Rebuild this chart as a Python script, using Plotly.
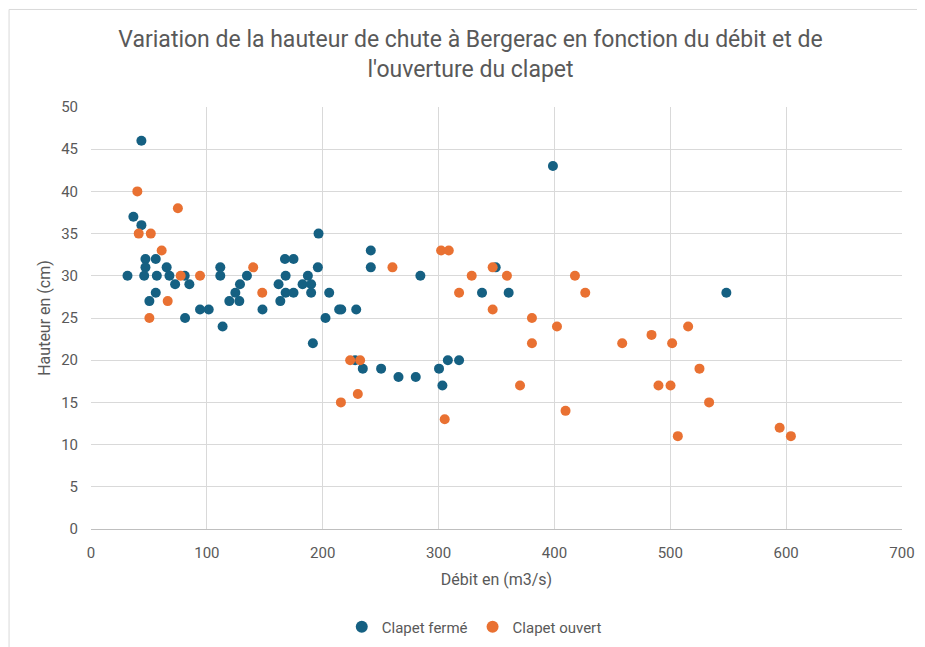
import plotly.graph_objects as go

# Clapet fermé (closed)
ferme_x = [43.5, 36.6, 43.5, 47, 55.9, 47, 65.3, 111.6, 111.6, 167.4, 174.8, 31.5, 45.9, 56.8,
           67.7, 80.9, 134.6, 168, 55.9, 72.6, 84.9, 128.6, 161.9, 124.6, 168, 174.8,
           50.4, 119.4, 128, 163.4, 81.2, 94.1, 101.6, 148, 113.6,
           196.4, 241.5, 241.5, 195.8, 187.2, 284.3, 349.3, 182.6, 190, 190, 205.6, 337.5,
           360.5, 214.2, 216, 228.9, 202.4, 191.5, 228, 234.6, 250.4, 265.4, 280.3, 300.4, 308,
           317.7, 303.3, 548.4, 398.7]
ferme_y = [46, 37, 36, 32, 32, 31, 31, 31, 30, 32, 32, 30, 30, 30,
           30, 30, 30, 30, 28, 29, 29, 29, 29, 28, 28, 28,
           27, 27, 27, 27, 25, 26, 26, 26, 24,
           35, 33, 31, 31, 30, 30, 31, 29, 29, 28, 28, 28,
           28, 26, 26, 26, 25, 22, 20, 19, 19, 18, 18, 19, 20,
           20, 17, 28, 43]

# Clapet ouvert (open)
ouvert_x = [40, 75, 41.2, 51.6, 61, 140, 77.4, 94.1, 147.8, 66.2, 50.4,
            260.2, 302.2, 308.8, 346.7, 328.6, 359, 317.7, 346.7,
            223.7, 232.3, 215.7, 230.3, 305.3,
            417.7, 426.6, 380.6, 402.2, 515.4, 380.6, 458.5, 483.8, 501.6, 525.2,
            370.3, 489.8, 500.2, 533.5, 409.6, 506.5, 594.4, 604.1]
ouvert_y = [40, 38, 35, 35, 33, 31, 30, 30, 28, 27, 25,
            31, 33, 33, 31, 30, 30, 28, 26,
            20, 20, 15, 16, 13,
            30, 28, 25, 24, 24, 22, 22, 23, 22, 19,
            17, 17, 17, 15, 14, 11, 12, 11]

title_text = "Variation de la hauteur de chute à Bergerac en fonction du débit et de<br>l'ouverture du clapet"
x_title = "Débit en (m3/s)"
y_title = "Hauteur en (cm)"

FONT = "Roboto, sans-serif"
GREY = "#595959"

fig = go.Figure()
fig.add_trace(go.Scatter(x=ferme_x, y=ferme_y, mode="markers", name="Clapet fermé",
                         marker=dict(size=10, color="#156082")))
fig.add_trace(go.Scatter(x=ouvert_x, y=ouvert_y, mode="markers", name="Clapet ouvert",
                         marker=dict(size=10, color="#E97132")))

fig.update_layout(
    width=925, height=647,
    paper_bgcolor="white", plot_bgcolor="white",
    margin=dict(l=83, r=31, t=99, b=124),
    font=dict(family=FONT, color=GREY, size=15),
    title=dict(text=title_text, x=0.5, xanchor="center", y=0.940, yanchor="middle",
               font=dict(size=23, color=GREY, family=FONT)),
    legend=dict(orientation="h", x=(474 - 90.5) / 811.5, xanchor="center", y=-0.232, yanchor="middle",
                font=dict(size=15, color=GREY), itemsizing="constant", itemwidth=30),
    xaxis=dict(range=[0, 700], dtick=100, showgrid=True, gridcolor="#D9D9D9", zeroline=False,
               showline=True, linecolor="#BFBFBF", ticks="", tickfont=dict(size=15, color=GREY),
               ticklabelstandoff=10,
               title=dict(text=x_title, font=dict(size=16, color=GREY), standoff=12)),
    yaxis=dict(range=[0, 50], dtick=5, showgrid=True, gridcolor="#D9D9D9", zeroline=False,
               showline=False, ticks="", tickfont=dict(size=15, color=GREY),
               ticklabelstandoff=12,
               title=dict(text=y_title, font=dict(size=16, color=GREY), standoff=6)),
    shapes=[dict(type="rect", xref="paper", yref="paper",
                 x0=-82/811.5, x1=1 + 40/811.5, y0=-140/424, y1=1 + 98/424,
                 line=dict(color="#D9D9D9", width=1), fillcolor="rgba(0,0,0,0)", layer="below")],
)

fig.write_html("out.html")
